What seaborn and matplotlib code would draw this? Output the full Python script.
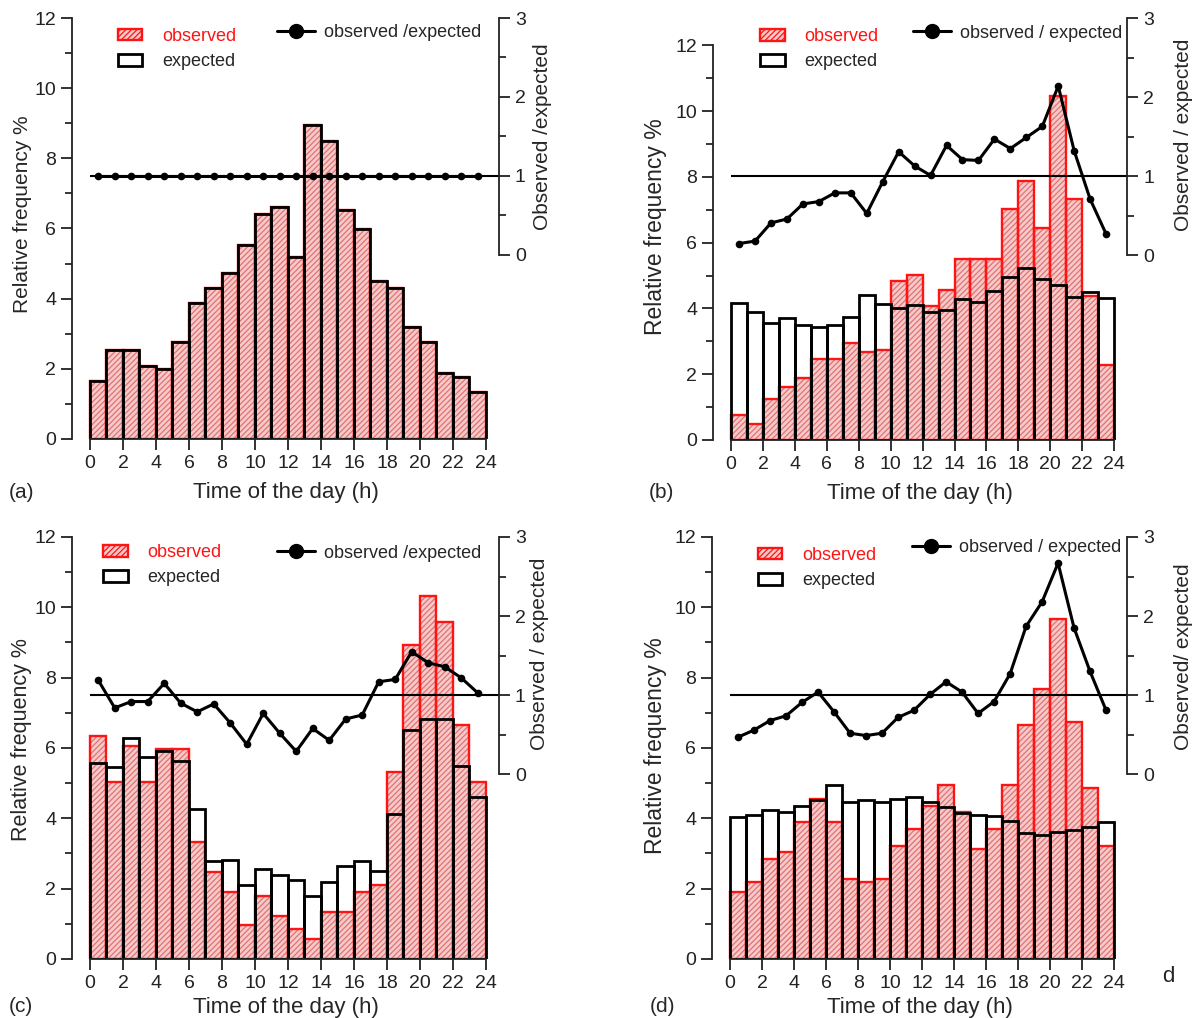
import numpy as np
import pandas as pd
import matplotlib
matplotlib.use("Agg")
import matplotlib.pyplot as plt
from matplotlib.patches import Patch
from matplotlib.lines import Line2D
from matplotlib.ticker import MultipleLocator, FixedLocator
import seaborn as sns

# Hour-of-day bins (centres) and their edges
hours = np.arange(0.5, 24, 1.0)
bin_edges = list(range(25))

# (a) observed equals expected
observed_a = [1.66, 2.54, 2.54, 2.09, 1.99, 2.77, 3.87, 4.30, 4.74, 5.53, 6.40, 6.62,
              5.19, 8.95, 8.50, 6.53, 5.98, 4.51, 4.30, 3.20, 2.77, 1.88, 1.76, 1.33]
expected_a = [1.66, 2.54, 2.54, 2.09, 1.99, 2.77, 3.87, 4.30, 4.74, 5.53, 6.40, 6.62,
              5.19, 8.95, 8.50, 6.53, 5.98, 4.51, 4.30, 3.20, 2.77, 1.88, 1.76, 1.33]
ratio_a = [1.0, 1.0, 1.0, 1.0, 1.0, 1.0, 1.0, 1.0, 1.0, 1.0, 1.0, 1.0,
           1.0, 1.0, 1.0, 1.0, 1.0, 1.0, 1.0, 1.0, 1.0, 1.0, 1.0, 1.0]

# (b)
observed_b = [0.76, 0.48, 1.24, 1.62, 1.89, 2.46, 2.46, 2.94, 2.66, 2.74, 4.84, 5.03,
              4.08, 4.56, 5.50, 5.50, 5.50, 7.02, 7.88, 6.45, 10.45, 7.32, 4.38, 2.28]
expected_b = [4.17, 3.90, 3.56, 3.70, 3.49, 3.44, 3.49, 3.73, 4.42, 4.13, 4.00, 4.10,
              3.90, 3.95, 4.30, 4.20, 4.54, 4.96, 5.22, 4.88, 4.71, 4.35, 4.49, 4.33]
ratio_b = [0.15, 0.18, 0.41, 0.46, 0.65, 0.68, 0.79, 0.79, 0.53, 0.93, 1.31, 1.13,
           1.01, 1.39, 1.21, 1.20, 1.47, 1.35, 1.49, 1.63, 2.14, 1.32, 0.71, 0.27]

# (c)
observed_c = [6.35, 5.03, 6.07, 5.03, 5.97, 5.97, 3.33, 2.46, 1.90, 0.96, 1.80, 1.23,
              0.86, 0.58, 1.33, 1.33, 1.90, 2.09, 5.31, 8.92, 10.33, 9.58, 6.64, 5.02]
expected_c = [5.57, 5.47, 6.27, 5.73, 5.90, 5.64, 4.27, 2.78, 2.82, 2.09, 2.56, 2.40,
              2.24, 1.78, 2.19, 2.64, 2.78, 2.50, 4.12, 6.52, 6.82, 6.82, 5.48, 4.60]
ratio_c = [1.19, 0.84, 0.92, 0.92, 1.15, 0.90, 0.79, 0.89, 0.65, 0.38, 0.77, 0.52,
           0.29, 0.58, 0.43, 0.70, 0.75, 1.17, 1.20, 1.55, 1.41, 1.36, 1.22, 1.03]

# (d)
observed_d = [1.90, 2.19, 2.84, 3.04, 3.89, 4.56, 3.89, 2.28, 2.19, 2.28, 3.22, 3.70,
              4.36, 4.94, 4.17, 3.13, 3.70, 4.94, 6.64, 7.69, 9.68, 6.74, 4.85, 3.22]
expected_d = [4.04, 4.10, 4.23, 4.17, 4.36, 4.53, 4.94, 4.46, 4.51, 4.45, 4.55, 4.61,
              4.46, 4.32, 4.15, 4.09, 4.07, 3.91, 3.58, 3.53, 3.62, 3.66, 3.75, 3.89]
ratio_d = [0.47, 0.56, 0.68, 0.74, 0.91, 1.04, 0.79, 0.52, 0.49, 0.52, 0.72, 0.81,
           1.01, 1.17, 1.04, 0.77, 0.92, 1.27, 1.87, 2.18, 2.67, 1.85, 1.30, 0.81]

sns.set_style("ticks")
plt.rcParams["font.family"] = ["Liberation Sans", "DejaVu Sans"]
plt.rcParams["hatch.linewidth"] = 0.9

PINK = "#f6caca"
HATCH = "#e27272"
RED = "#ff1414"

fig = plt.figure(figsize=(11.92, 10.18), dpi=100)

panels = [
    dict(obs=observed_a, exp=expected_a, ratio=ratio_a,
         rect=[0.0604, 0.5688, 0.3582, 0.4135], xlim=(-1.09, 24.79), ytop=12.0,
         rlabel="Observed /expected", llabel="observed /expected",
         patch_leg=(0.108, 0.976), line_leg=(0.48, 0.965), xlab_y=-0.102,
         ylab_x=-0.094, ylab_y=0.534, ylab_size=15, rlab_x=1.08),
    dict(obs=observed_b, exp=expected_b, ratio=ratio_b,
         rect=[0.5982, 0.5678, 0.3473, 0.4145], xlim=(-1.13, 24.81), ytop=12.83,
         rlabel="Observed / expected", llabel="observed / expected",
         patch_leg=(0.114, 0.976), line_leg=(0.483, 0.964), xlab_y=-0.102,
         ylab_x=-0.111, ylab_y=0.505, ylab_size=16.5, rlab_x=1.113),
    dict(obs=observed_c, exp=expected_c, ratio=ratio_c,
         rect=[0.0604, 0.0580, 0.3582, 0.4145], xlim=(-1.09, 24.79), ytop=12.0,
         rlabel="Observed / expected", llabel="observed /expected",
         patch_leg=(0.073, 0.983), line_leg=(0.48, 0.962), xlab_y=-0.09,
         ylab_x=-0.094, ylab_y=0.52, ylab_size=15.5, rlab_x=1.073),
    dict(obs=observed_d, exp=expected_d, ratio=ratio_d,
         rect=[0.5973, 0.0580, 0.3482, 0.4145], xlim=(-1.13, 24.81), ytop=12.0,
         rlabel="Observed/ expected", llabel="observed / expected",
         patch_leg=(0.111, 0.976), line_leg=(0.481, 0.975), xlab_y=-0.09,
         ylab_x=-0.108, ylab_y=0.505, ylab_size=16.5, rlab_x=1.113),
]

for p in panels:
    df = pd.DataFrame({"hour": hours, "observed": p["obs"],
                       "expected": p["exp"], "ratio": p["ratio"]})
    ax = fig.add_axes(p["rect"])

    # observed: hatched pink fill, then red outline
    sns.histplot(data=df, x="hour", weights="observed", bins=bin_edges, ax=ax,
                 color=PINK, edgecolor=HATCH, hatch="//////", linewidth=0, alpha=1)
    sns.histplot(data=df, x="hour", weights="observed", bins=bin_edges, ax=ax,
                 fill=False, color=RED, linewidth=1.7)
    # expected: black outline on top
    sns.histplot(data=df, x="hour", weights="expected", bins=bin_edges, ax=ax,
                 fill=False, color="black", linewidth=2.0)

    ax.set_xlim(p["xlim"])
    ax.set_ylim(0, p["ytop"])
    ax.xaxis.set_major_locator(MultipleLocator(2))
    ax.yaxis.set_major_locator(FixedLocator([0, 2, 4, 6, 8, 10, 12]))
    ax.yaxis.set_minor_locator(FixedLocator([1, 3, 5, 7, 9, 11]))
    ax.tick_params(which="major", direction="out", length=8, width=1.3,
                   labelsize=14, colors="#222222")
    ax.tick_params(which="minor", direction="out", length=5, width=1.3)
    for s in ("top", "right"):
        ax.spines[s].set_visible(False)
    ax.spines["left"].set_bounds(0, 12)
    ax.spines["bottom"].set_bounds(0, 24)
    for s in ("left", "bottom"):
        ax.spines[s].set_linewidth(1.3)
        ax.spines[s].set_color("#222222")

    ax.set_xlabel("Time of the day (h)", fontsize=16)
    ax.xaxis.set_label_coords(0.5, p["xlab_y"])
    ax.xaxis.label.set_va("top")
    ax.set_ylabel("Relative frequency %", fontsize=p["ylab_size"])
    ax.yaxis.set_label_coords(p["ylab_x"], p["ylab_y"])

    # ratio on a secondary axis
    ax2 = ax.twinx()
    ax2.set_ylim(-7.0 / 3.0, 3)
    ax2.hlines(1, 0, p["xlim"][1], color="black", linewidth=1.5, zorder=2)
    sns.lineplot(data=df, x="hour", y="ratio", ax=ax2, color="black",
                 linewidth=2.2, marker="o", markersize=5.5, markeredgewidth=0,
                 zorder=3)
    ax2.set_xlim(p["xlim"])
    for s in ("top", "left", "bottom"):
        ax2.spines[s].set_visible(False)
    ax2.spines["right"].set_bounds(0, 3)
    ax2.spines["right"].set_linewidth(1.3)
    ax2.spines["right"].set_color("#222222")
    ax2.yaxis.set_major_locator(FixedLocator([0, 1, 2, 3]))
    ax2.yaxis.set_minor_locator(FixedLocator([0.5, 1.5, 2.5]))
    ax2.tick_params(which="major", direction="out", length=8, width=1.3,
                    labelsize=14, colors="#222222")
    ax2.tick_params(which="minor", direction="out", length=5, width=1.3)
    ax2.set_ylabel(p["rlabel"], fontsize=15)
    ax2.yaxis.label.set_ha("left")
    ax2.yaxis.set_label_coords(p["rlab_x"], 0.496)

    # legends
    patch_handles = [
        Patch(facecolor=PINK, edgecolor=RED, hatch="//////", linewidth=1.7),
        Patch(facecolor="white", edgecolor="black", linewidth=2.0),
    ]
    leg1 = ax2.legend(patch_handles, ["observed", "expected"], loc="upper left",
                      bbox_to_anchor=p["patch_leg"], frameon=False, fontsize=13,
                      borderpad=0, borderaxespad=0, handlelength=1.35,
                      handleheight=0.6, handletextpad=1.1, labelspacing=0.45)
    leg1.get_texts()[0].set_color(RED)
    ax2.add_artist(leg1)
    line_handle = Line2D([], [], color="black", linewidth=2.2, marker="o",
                         markersize=10)
    ax2.legend([line_handle], [p["llabel"]], loc="center left",
               bbox_to_anchor=p["line_leg"], frameon=False, fontsize=13,
               borderpad=0, borderaxespad=0, handlelength=2.1,
               handletextpad=0.5)

# panel tags
fig.text(0.007, 1 - 492 / 1018, "(a)", fontsize=15, va="center")
fig.text(0.544, 1 - 492 / 1018, "(b)", fontsize=15, va="center")
fig.text(0.007, 1 - 1007 / 1018, "(c)", fontsize=15, va="center")
fig.text(0.545, 1 - 1007 / 1018, "(d)", fontsize=15, va="center")
fig.text(1162 / 1192, 1 - 977 / 1018, "d", fontsize=16, va="center")

fig.savefig("out.png", dpi=100)
